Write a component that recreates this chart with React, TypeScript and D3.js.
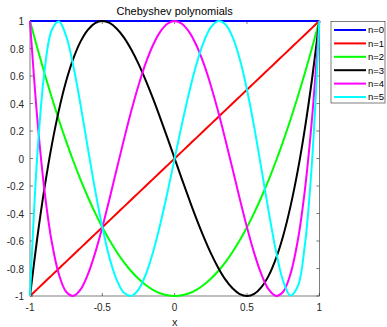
import React from "react";
import * as d3 from "d3";

const xs = [-1, -0.95, -0.9, -0.85, -0.8, -0.75, -0.7, -0.65, -0.6, -0.55, -0.5, -0.45, -0.4, -0.35, -0.3, -0.25, -0.2, -0.15, -0.1, -0.05, 0, 0.05, 0.1, 0.15, 0.2, 0.25, 0.3, 0.35, 0.4, 0.45, 0.5, 0.55, 0.6, 0.65, 0.7, 0.75, 0.8, 0.85, 0.9, 0.95, 1];
const t0 = xs.map(() => 1);
const t1 = [-1, -0.95, -0.9, -0.85, -0.8, -0.75, -0.7, -0.65, -0.6, -0.55, -0.5, -0.45, -0.4, -0.35, -0.3, -0.25, -0.2, -0.15, -0.1, -0.05, 0, 0.05, 0.1, 0.15, 0.2, 0.25, 0.3, 0.35, 0.4, 0.45, 0.5, 0.55, 0.6, 0.65, 0.7, 0.75, 0.8, 0.85, 0.9, 0.95, 1];
const t2 = [1, 0.805, 0.62, 0.445, 0.28, 0.125, -0.02, -0.155, -0.28, -0.395, -0.5, -0.595, -0.68, -0.755, -0.82, -0.875, -0.92, -0.955, -0.98, -0.995, -1, -0.995, -0.98, -0.955, -0.92, -0.875, -0.82, -0.755, -0.68, -0.595, -0.5, -0.395, -0.28, -0.155, -0.02, 0.125, 0.28, 0.445, 0.62, 0.805, 1];
const t3 = [-1, -0.58, -0.216, 0.094, 0.352, 0.563, 0.728, 0.852, 0.936, 0.985, 1, 0.986, 0.944, 0.879, 0.792, 0.688, 0.568, 0.437, 0.296, 0.15, 0, -0.15, -0.296, -0.437, -0.568, -0.688, -0.792, -0.879, -0.944, -0.986, -1, -0.985, -0.936, -0.852, -0.728, -0.563, -0.352, -0.094, 0.216, 0.58, 1];
const t4 = [1, 0.296, -0.231, -0.604, -0.843, -0.969, -0.999, -0.952, -0.843, -0.688, -0.5, -0.292, -0.075, 0.14, 0.345, 0.531, 0.693, 0.824, 0.921, 0.98, 1, 0.98, 0.921, 0.824, 0.693, 0.531, 0.345, 0.14, -0.075, -0.292, -0.5, -0.688, -0.843, -0.952, -0.999, -0.969, -0.843, -0.604, -0.231, 0.296, 1];
const t5 = [-1, 0.017, 0.632, 0.933, 0.997, 0.891, 0.671, 0.386, 0.076, -0.228, -0.5, -0.723, -0.884, -0.977, -0.999, -0.953, -0.845, -0.684, -0.48, -0.248, 0, 0.248, 0.48, 0.684, 0.845, 0.953, 0.999, 0.977, 0.884, 0.723, 0.5, 0.228, -0.076, -0.386, -0.671, -0.891, -0.997, -0.933, -0.632, -0.017, 1];

const seriesNames = ["n=0", "n=1", "n=2", "n=3", "n=4", "n=5"];
const seriesValues = [t0, t1, t2, t3, t4, t5];
const seriesColors = ["#0000ff", "#ff0000", "#00ff00", "#000000", "#ff00ff", "#00ffff"];
const xTicks = [-1, -0.5, 0, 0.5, 1];
const yTicks = [-1, -0.8, -0.6, -0.4, -0.2, 0, 0.2, 0.4, 0.6, 0.8, 1];

const W = 387, H = 327;
const L = 30, R = 319.3, T = 21, B = 296;
const font = "'Liberation Sans', Arial, Helvetica, sans-serif";
const axisColor = "#262626";

export default function App() {
  const x = d3.scaleLinear().domain([-1, 1]).range([L, R]);
  const y = d3.scaleLinear().domain([-1, 1]).range([B, T]);
  const line = d3
    .line<number>()
    .x((_, i) => x(xs[i]))
    .y((d) => y(d))
    .curve(d3.curveCatmullRom.alpha(0.5));

  const legX = 331, legY = 21.5, legW = 54, legH = 81.5;
  const rowH = 13.4;

  return (
    <svg width={W} height={H} style={{ position: "absolute", left: 0, top: 0, background: "#fff" }}>
      <rect x={0} y={0} width={W} height={H} fill="#fff" />
      {/* axes box */}
      <rect x={L} y={T} width={R - L} height={B - T} fill="#fff" stroke={axisColor} strokeWidth={0.6} />
      {xTicks.map((t) => (
        <g key={"xt" + t}>
          <line x1={x(t)} x2={x(t)} y1={B} y2={B - 3} stroke={axisColor} strokeWidth={0.6} />
          <line x1={x(t)} x2={x(t)} y1={T} y2={T + 3} stroke={axisColor} strokeWidth={0.6} />
          <text x={x(t)} y={311} textAnchor="middle" fontFamily={font} fontSize={10} fill={axisColor}>
            {String(t)}
          </text>
        </g>
      ))}
      {yTicks.map((t) => (
        <g key={"yt" + t}>
          <line x1={L} x2={L + 3} y1={y(t)} y2={y(t)} stroke={axisColor} strokeWidth={0.6} />
          <line x1={R} x2={R - 3} y1={y(t)} y2={y(t)} stroke={axisColor} strokeWidth={0.6} />
          <text x={24} y={y(t) + 4} textAnchor="end" fontFamily={font} fontSize={10} fill={axisColor}>
            {String(t)}
          </text>
        </g>
      ))}
      {seriesValues.map((vals, i) => (
        <path key={"s" + i} d={line(vals) || ""} fill="none" stroke={seriesColors[i]} strokeWidth={2} />
      ))}
      <text x={(L + R) / 2} y={15} textAnchor="middle" fontFamily={font} fontSize={11} fill="#000">
        Chebyshev polynomials
      </text>
      <text x={(L + R) / 2} y={325.5} textAnchor="middle" fontFamily={font} fontSize={11} fill={axisColor}>
        x
      </text>
      {/* legend */}
      <rect x={legX} y={legY} width={legW} height={legH} fill="#fff" stroke={axisColor} strokeWidth={0.6} />
      {seriesNames.map((n, i) => {
        const cy = legY + 8.5 + i * rowH;
        return (
          <g key={"lg" + i}>
            <line x1={334} x2={366} y1={cy} y2={cy} stroke={seriesColors[i]} strokeWidth={2} />
            <text x={368} y={cy + 3.3} fontFamily={font} fontSize={9.5} fill="#000">
              {n}
            </text>
          </g>
        );
      })}
    </svg>
  );
}
